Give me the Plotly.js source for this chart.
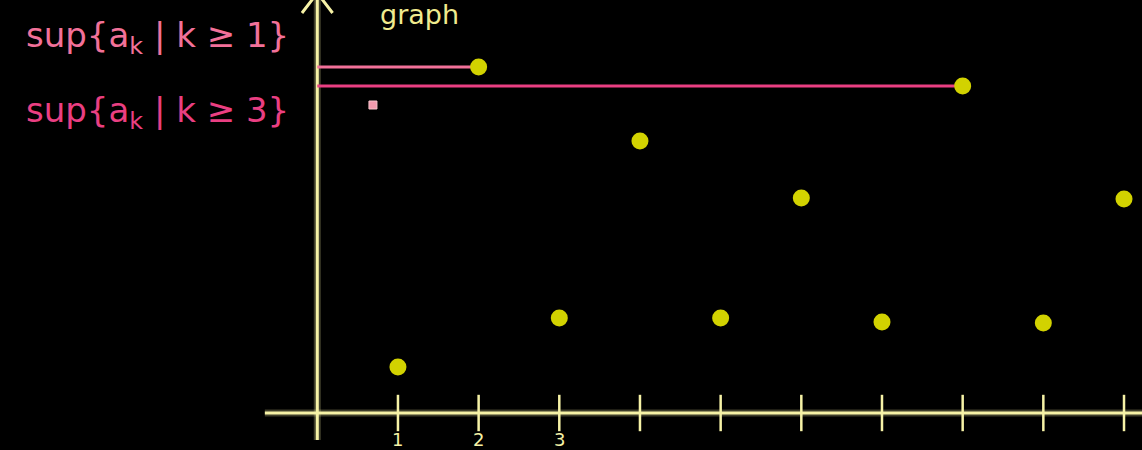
<!DOCTYPE html>
<html>
<head>
<meta charset="utf-8">
<script src="https://cdn.plot.ly/plotly-3.0.1.min.js"></script>
<style>html,body{margin:0;padding:0;background:#000;}#chart{width:1142px;height:450px;}</style>
</head>
<body>
<div id="chart"></div>
<script>
// sequence a_k
var k = [1, 2, 3, 4, 5, 6, 7, 8, 9, 10];
var a = [0.46, 3.46, 0.95, 2.72, 0.95, 2.15, 0.91, 3.27, 0.90, 2.14];
// sup levels
var supLabels = ["sup{a<sub>k</sub> | k ≥ 1}", "sup{a<sub>k</sub> | k ≥ 3}"];
var supValue = [3.46, 3.27];
var supAtK = [2, 8];
// axis ticks
var tickVals = [1, 2, 3, 4, 5, 6, 7, 8, 9, 10];
var tickLabels = ["1", "2", "3"];
// axis extents
var xAxisSpan = [-0.65, 10.4];
var yAxisSpan = [-0.27, 4.2];

var axisColor = '#f6f2a6';
var dotColor = '#d2d200';
var pink1 = '#f27199';
var pink2 = '#ea3f82';

var traces = [];
// glow + axis lines
traces.push({x: xAxisSpan, y: [0, 0], mode: 'lines', line: {color: 'rgba(246,242,166,0.25)', width: 7}, hoverinfo: 'skip'});
traces.push({x: [0, 0], y: yAxisSpan, mode: 'lines', line: {color: 'rgba(246,242,166,0.25)', width: 7}, hoverinfo: 'skip'});
traces.push({x: xAxisSpan, y: [0, 0], mode: 'lines', line: {color: axisColor, width: 3}, hoverinfo: 'skip'});
traces.push({x: [0, 0], y: yAxisSpan, mode: 'lines', line: {color: axisColor, width: 3}, hoverinfo: 'skip'});
// arrow head at top of y-axis
traces.push({x: [-0.19, 0, 0.19], y: [yAxisSpan[1] - 0.2, yAxisSpan[1], yAxisSpan[1] - 0.2], mode: 'lines', line: {color: axisColor, width: 3}, hoverinfo: 'skip'});
// tick marks crossing the axis
traces.push({x: tickVals, y: tickVals.map(function(){return 0;}), mode: 'markers',
  marker: {symbol: 'line-ns-open', size: 26, color: axisColor, line: {color: axisColor, width: 2.5}}, hoverinfo: 'skip'});
// sup lines
var pinks = [pink1, pink2];
for (var i = 0; i < supValue.length; i++) {
  traces.push({x: [0, supAtK[i]], y: [supValue[i], supValue[i]], mode: 'lines',
    line: {color: pinks[i], width: 3}, hoverinfo: 'skip'});
}
// sequence points
traces.push({x: k, y: a, mode: 'markers', marker: {color: dotColor, size: 17}, hoverinfo: 'x+y'});
// small pink square
traces.push({x: [0.69], y: [3.08], mode: 'markers', marker: {symbol: 'square', color: '#f29aae', size: 8, line: {color: '#f8c4cc', width: 1}}, hoverinfo: 'skip'});

var annotations = [];
for (var j = 0; j < tickLabels.length; j++) {
  annotations.push({x: tickVals[j], y: -0.26, xref: 'x', yref: 'y', text: tickLabels[j], showarrow: false,
    font: {family: 'DejaVu Sans', size: 18, color: axisColor}});
}
var supY = [38, 112];
for (var m = 0; m < supLabels.length; m++) {
  annotations.push({x: 24 / 1142, y: 1 - supY[m] / 450, xref: 'paper', yref: 'paper', xanchor: 'left', yanchor: 'middle',
    text: supLabels[m], showarrow: false, font: {family: 'DejaVu Sans', size: 34, color: pinks[m]}});
}
annotations.push({x: 378 / 1142, y: 1 - 15 / 450, xref: 'paper', yref: 'paper', xanchor: 'left', yanchor: 'middle',
  text: 'graph', showarrow: false, font: {family: 'DejaVu Sans', size: 27, color: '#f0eb8e'}});

var layout = {
  width: 1142, height: 450,
  margin: {l: 0, r: 0, t: 0, b: 0},
  paper_bgcolor: '#000', plot_bgcolor: '#000',
  showlegend: false,
  xaxis: {range: [-3.933, 10.223], visible: false, fixedrange: true},
  yaxis: {range: [-0.37, 4.13], visible: false, fixedrange: true},
  annotations: annotations
};
Plotly.newPlot('chart', traces, layout, {displayModeBar: false, staticPlot: true});
</script>
</body>
</html>
